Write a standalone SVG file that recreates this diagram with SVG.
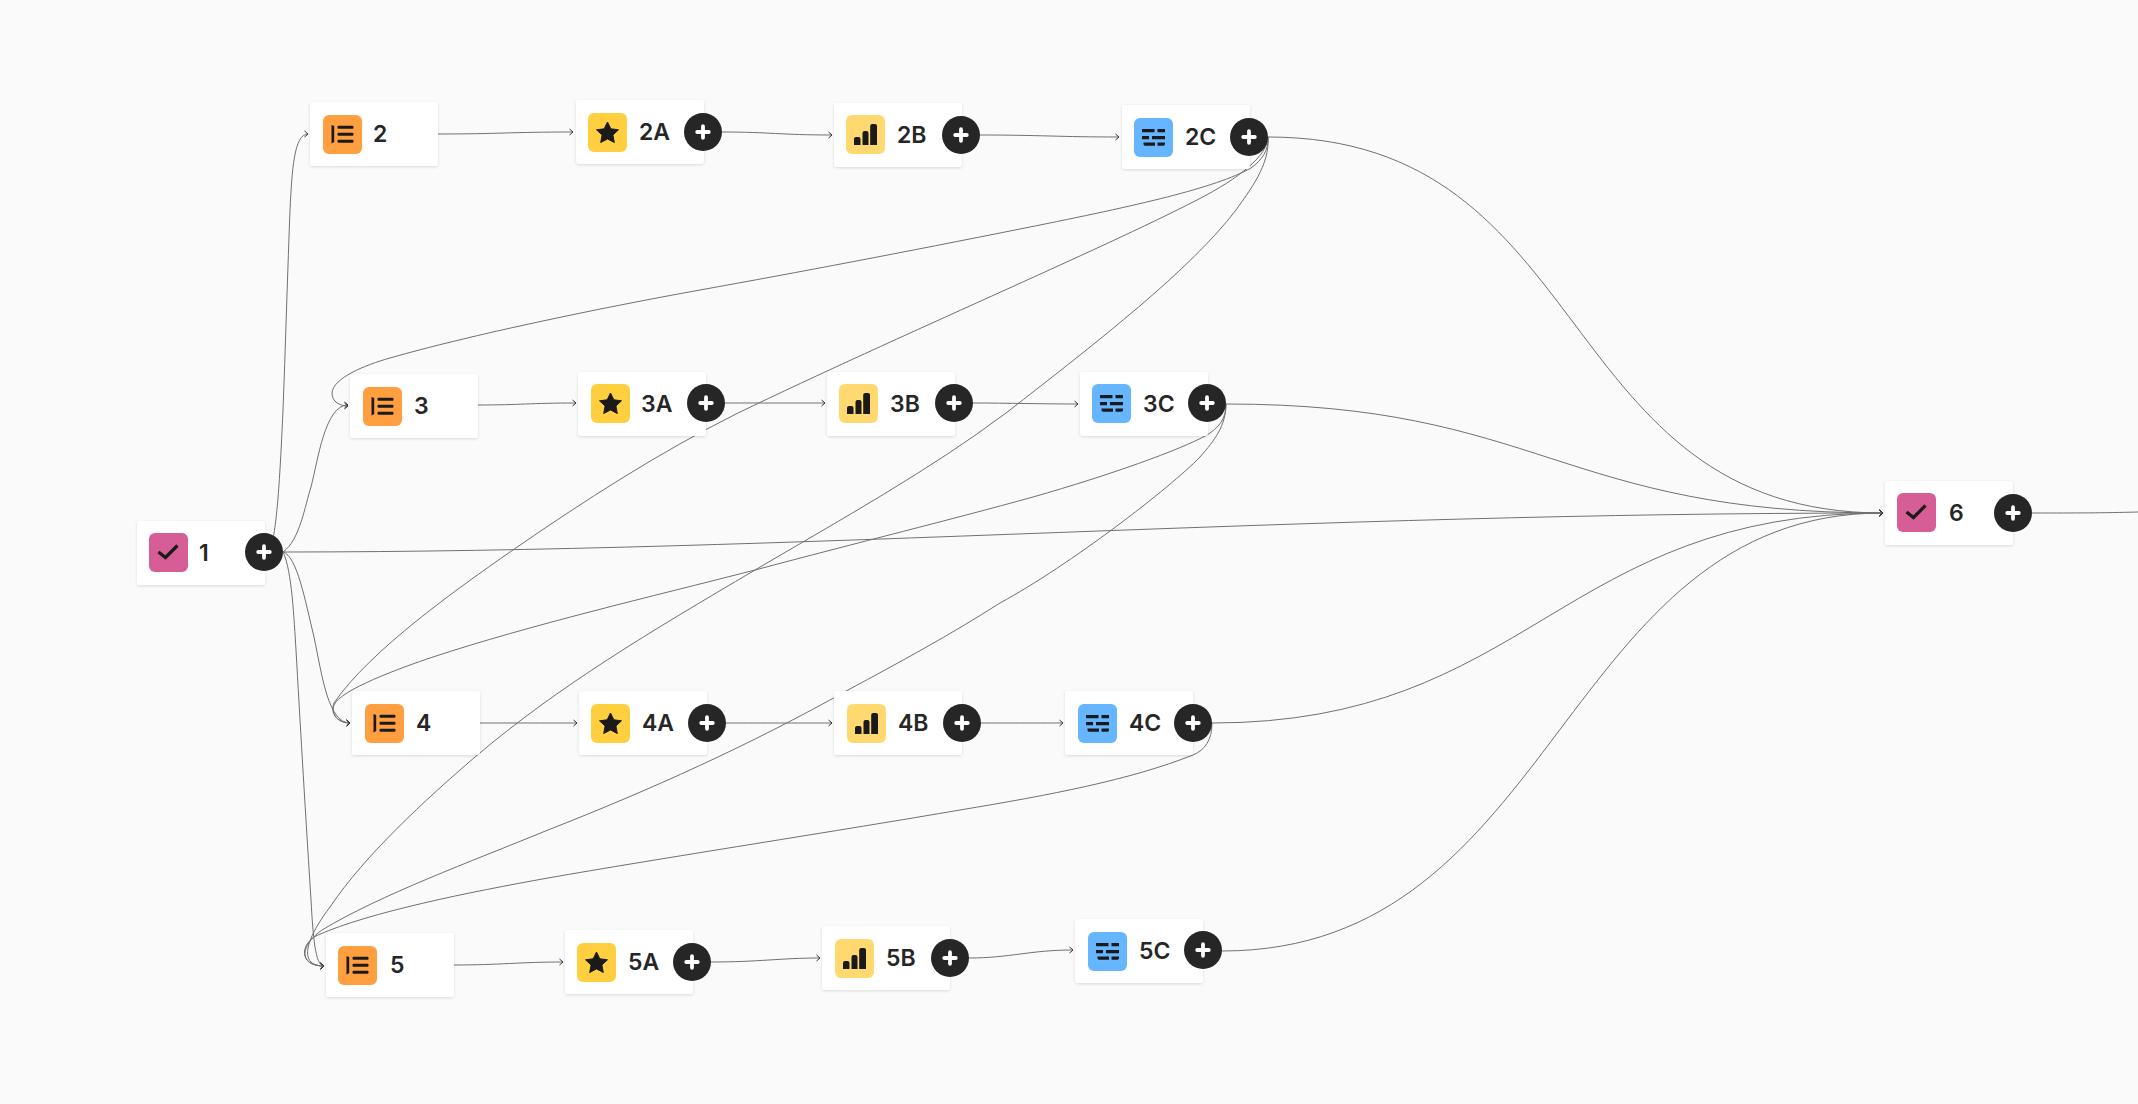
<svg xmlns="http://www.w3.org/2000/svg" width="2138" height="1104" viewBox="0 0 2138 1104">
<style>
.card{fill:#fff;filter:url(#sh)}
.lb{font-family:Inter,"Liberation Sans",sans-serif;font-size:23px;font-weight:600;fill:#262626}
.e{fill:none;stroke:#707070;stroke-width:1;marker-end:url(#ah)}
.n{fill:none;stroke:#707070;stroke-width:1}
.pc{fill:#262626}
.pl{stroke:#fff;stroke-width:3.8;stroke-linecap:round;fill:none}
</style>
<defs>
<filter id="sh" x="-10%" y="-15%" width="120%" height="135%"><feDropShadow dx="0" dy="1" stdDeviation="1.5" flood-color="#000" flood-opacity="0.13"/></filter>
<marker id="ah" markerUnits="userSpaceOnUse" markerWidth="8" markerHeight="8" refX="5" refY="4" orient="auto"><path d="M1.500 1L5 4L1.500 7" fill="none" stroke="#333" stroke-width="1"/></marker>
<symbol id="i-check" width="39" height="39" viewBox="0 0 39 39"><rect width="39" height="39" rx="6" fill="#D75D97"/><path d="M9.500 19L16.500 24.500L28.500 12.500" fill="none" stroke="#1a1a1a" stroke-width="3.200"/></symbol>
<symbol id="i-list" width="39" height="39" viewBox="0 0 39 39"><rect width="39" height="39" rx="6" fill="#FF9F40"/><path d="M8.500 10L11.200 11V27L8.500 28.500Z" fill="#1a1a1a"/><rect x="14.500" y="10.800" width="16" height="3" rx="1" fill="#1a1a1a"/><rect x="14.500" y="17.800" width="16" height="3" rx="1" fill="#1a1a1a"/><rect x="14.500" y="24.800" width="16" height="3" rx="1" fill="#1a1a1a"/></symbol>
<symbol id="i-star" width="39" height="39" viewBox="0 0 39 39"><rect width="39" height="39" rx="6" fill="#FFCF40"/><path d="M19.500 9L22.800 15.800L30.500 16.800L24.900 22L26.300 29.500L19.500 25.900L12.700 29.500L14.100 22L8.500 16.800L16.200 15.800Z" fill="#1a1a1a" stroke="#1a1a1a" stroke-width="1" stroke-linejoin="round"/></symbol>
<symbol id="i-bars" width="39" height="39" viewBox="0 0 39 39"><rect width="39" height="39" rx="6" fill="#FFD970"/><path d="M8 30V24Q8 22 10 22H12.500Q14.500 22 14.500 24V30Z M16.500 30V18Q16.500 16 18.500 16H20.500Q22.500 16 22.500 18V30Z M24.200 30V11Q24.200 9 26.200 9H29Q31 9 31 11V30Z" fill="#1a1a1a"/></symbol>
<symbol id="i-rows" width="39" height="39" viewBox="0 0 39 39"><rect width="39" height="39" rx="6" fill="#66B5FF"/><path d="M8 11H20.500V14.200H8Z M23.500 11H31V14.200H23.500Z M8 18H15V21.200H8Z M18 18H31V21.200H18Z M9.500 24.500H21V27.700H11Q9.500 27.700 9.500 26Z M23.500 24.500H31V26Q31 27.700 29.500 27.700H23.500Z" fill="#1a1a1a"/></symbol>
<g id="plus"><circle class="pc" r="19"/><path class="pl" d="M-5.800 0H5.800M0 -5.800V5.800"/></g>
</defs>
<rect width="2138" height="1104" fill="#FAFAFA"/>
<g id="connectors">
<path class="e" d="M270 552C276 530 279 500 283 410C285 360 288 260 290 210C292 170 294 134 308 134"/>
<path class="e" d="M283 552C300 540 305 505 311 487C318 460 325 405 348 405"/>
<path class="e" d="M283 552C297 556 305 600 314 637C322 675 328 723 350 723"/>
<path class="e" d="M283 552C292 570 294 620 296 650C300 720 304 790 311 900C313 935 315 966 324 966"/>
<path class="e" d="M283 552C800 552 1300 513 1883 513"/>
<path class="e" d="M438 134C500 134 510 132 573 132"/>
<path class="e" d="M722 132C770 132 780 135 832 135"/>
<path class="e" d="M980 135C1040 135 1060 137 1119 137"/>
<path class="e" d="M478 405C520 405 530 403 576 403"/>
<path class="e" d="M725 403C770 403 780 403 825 403"/>
<path class="e" d="M973 403C1010 403 1040 404 1078 404"/>
<path class="e" d="M480 723C520 723 540 723 577 723"/>
<path class="e" d="M726 723C770 723 790 723 832 723"/>
<path class="e" d="M981 723C1010 723 1030 723 1063 723"/>
<path class="e" d="M454 965C500 965 520 962 563 962"/>
<path class="e" d="M711 962C760 962 780 958 820 958"/>
<path class="e" d="M969 958C1010 958 1030 950 1073 950"/>
<path class="e" d="M1268 137C1269 150 1262 160 1251 168C1215 188 1140 205 1025 228C900 253 800 272 700 290C600 308 470 335 390 358C365 365 333 378 332 393C332 402 340 406 348 406"/>
<path class="e" d="M1268 137C1268 155 1240 178 1197 200C1100 250 900 335 738 413C660 452 585 500 510 552C460 587 370 650 334 703C330 712 336 723 350 723"/>
<path class="e" d="M1268 137C1270 165 1250 190 1236 210C1190 270 1100 340 1006 413C930 470 840 520 755 570C650 632 560 685 475 757C425 800 365 855 330 907C305 940 298 966 324 966"/>
<path class="e" d="M1226 404C1226 420 1218 428 1207 435C1180 450 1110 475 1033 497C950 520 860 542 755 570C650 597 530 625 433 657C400 668 340 690 334 705C331 714 338 723 350 723"/>
<path class="e" d="M1226 404C1226 425 1215 440 1200 457C1170 488 1070 565 1000 603C950 635 900 662 848 690C750 745 650 790 548 830C470 862 380 895 322 930C300 945 298 966 324 966"/>
<path class="e" d="M1212 723C1212 740 1205 750 1193 755C1130 780 1050 795 960 810C850 829 650 860 548 878C470 892 370 912 318 935C300 943 298 966 324 966"/>
<path class="e" d="M1268 137C1600 137 1550 513 1883 513"/>
<path class="e" d="M1226 404C1540 404 1560 513 1883 513"/>
<path class="e" d="M1212 723C1530 723 1560 513 1883 513"/>
<path class="e" d="M1222 951C1560 951 1560 513 1883 513"/>
<path class="n" d="M2032 513C2080 513 2100 513 2138 512"/>
</g>
<g id="node-1"><rect class="card" x="137" y="521" width="128" height="64" rx="3"/><use href="#i-check" x="149" y="533"/><text class="lb" x="199" y="561">1</text><use href="#plus" x="264" y="552"/></g>
<g id="node-2"><rect class="card" x="310" y="102" width="128" height="64" rx="3"/><use href="#i-list" x="323" y="115"/><text class="lb" x="373" y="142">2</text></g>
<g id="node-2A"><rect class="card" x="576" y="100" width="128" height="64" rx="3"/><use href="#i-star" x="588" y="113"/><text class="lb" x="639" y="140">2A</text><use href="#plus" x="703" y="132"/></g>
<g id="node-2B"><rect class="card" x="834" y="103" width="128" height="64" rx="3"/><use href="#i-bars" x="846" y="115"/><text class="lb" x="897" y="143">2B</text><use href="#plus" x="961" y="135"/></g>
<g id="node-2C"><rect class="card" x="1122" y="105" width="128" height="64" rx="3"/><use href="#i-rows" x="1134" y="118"/><text class="lb" x="1185" y="145">2C</text><use href="#plus" x="1249" y="137"/></g>
<g id="node-3"><rect class="card" x="350" y="374" width="128" height="64" rx="3"/><use href="#i-list" x="363" y="387"/><text class="lb" x="414" y="414">3</text></g>
<g id="node-3A"><rect class="card" x="578" y="372" width="128" height="64" rx="3"/><use href="#i-star" x="591" y="384"/><text class="lb" x="641" y="412">3A</text><use href="#plus" x="706" y="403"/></g>
<g id="node-3B"><rect class="card" x="827" y="372" width="128" height="64" rx="3"/><use href="#i-bars" x="839" y="384"/><text class="lb" x="890" y="412">3B</text><use href="#plus" x="954" y="403"/></g>
<g id="node-3C"><rect class="card" x="1080" y="372" width="128" height="64" rx="3"/><use href="#i-rows" x="1092" y="384"/><text class="lb" x="1143" y="412">3C</text><use href="#plus" x="1207" y="403"/></g>
<g id="node-4"><rect class="card" x="352" y="691" width="128" height="64" rx="3"/><use href="#i-list" x="365" y="704"/><text class="lb" x="416" y="731">4</text></g>
<g id="node-4A"><rect class="card" x="579" y="691" width="128" height="64" rx="3"/><use href="#i-star" x="591" y="704"/><text class="lb" x="642" y="731">4A</text><use href="#plus" x="707" y="723"/></g>
<g id="node-4B"><rect class="card" x="834" y="691" width="128" height="64" rx="3"/><use href="#i-bars" x="847" y="704"/><text class="lb" x="898" y="731">4B</text><use href="#plus" x="962" y="723"/></g>
<g id="node-4C"><rect class="card" x="1065" y="691" width="128" height="64" rx="3"/><use href="#i-rows" x="1078" y="704"/><text class="lb" x="1129" y="731">4C</text><use href="#plus" x="1193" y="723"/></g>
<g id="node-5"><rect class="card" x="326" y="933" width="128" height="64" rx="3"/><use href="#i-list" x="338" y="946"/><text class="lb" x="390" y="973">5</text></g>
<g id="node-5A"><rect class="card" x="565" y="930" width="128" height="64" rx="3"/><use href="#i-star" x="577" y="943"/><text class="lb" x="628" y="970">5A</text><use href="#plus" x="692" y="962"/></g>
<g id="node-5B"><rect class="card" x="822" y="926" width="128" height="64" rx="3"/><use href="#i-bars" x="835" y="939"/><text class="lb" x="886" y="966">5B</text><use href="#plus" x="950" y="958"/></g>
<g id="node-5C"><rect class="card" x="1075" y="919" width="128" height="64" rx="3"/><use href="#i-rows" x="1088" y="932"/><text class="lb" x="1139" y="959">5C</text><use href="#plus" x="1203" y="950"/></g>
<g id="node-6"><rect class="card" x="1885" y="481" width="128" height="64" rx="3"/><use href="#i-check" x="1897" y="493"/><text class="lb" x="1949" y="521">6</text><use href="#plus" x="2013" y="513"/></g>
</svg>
